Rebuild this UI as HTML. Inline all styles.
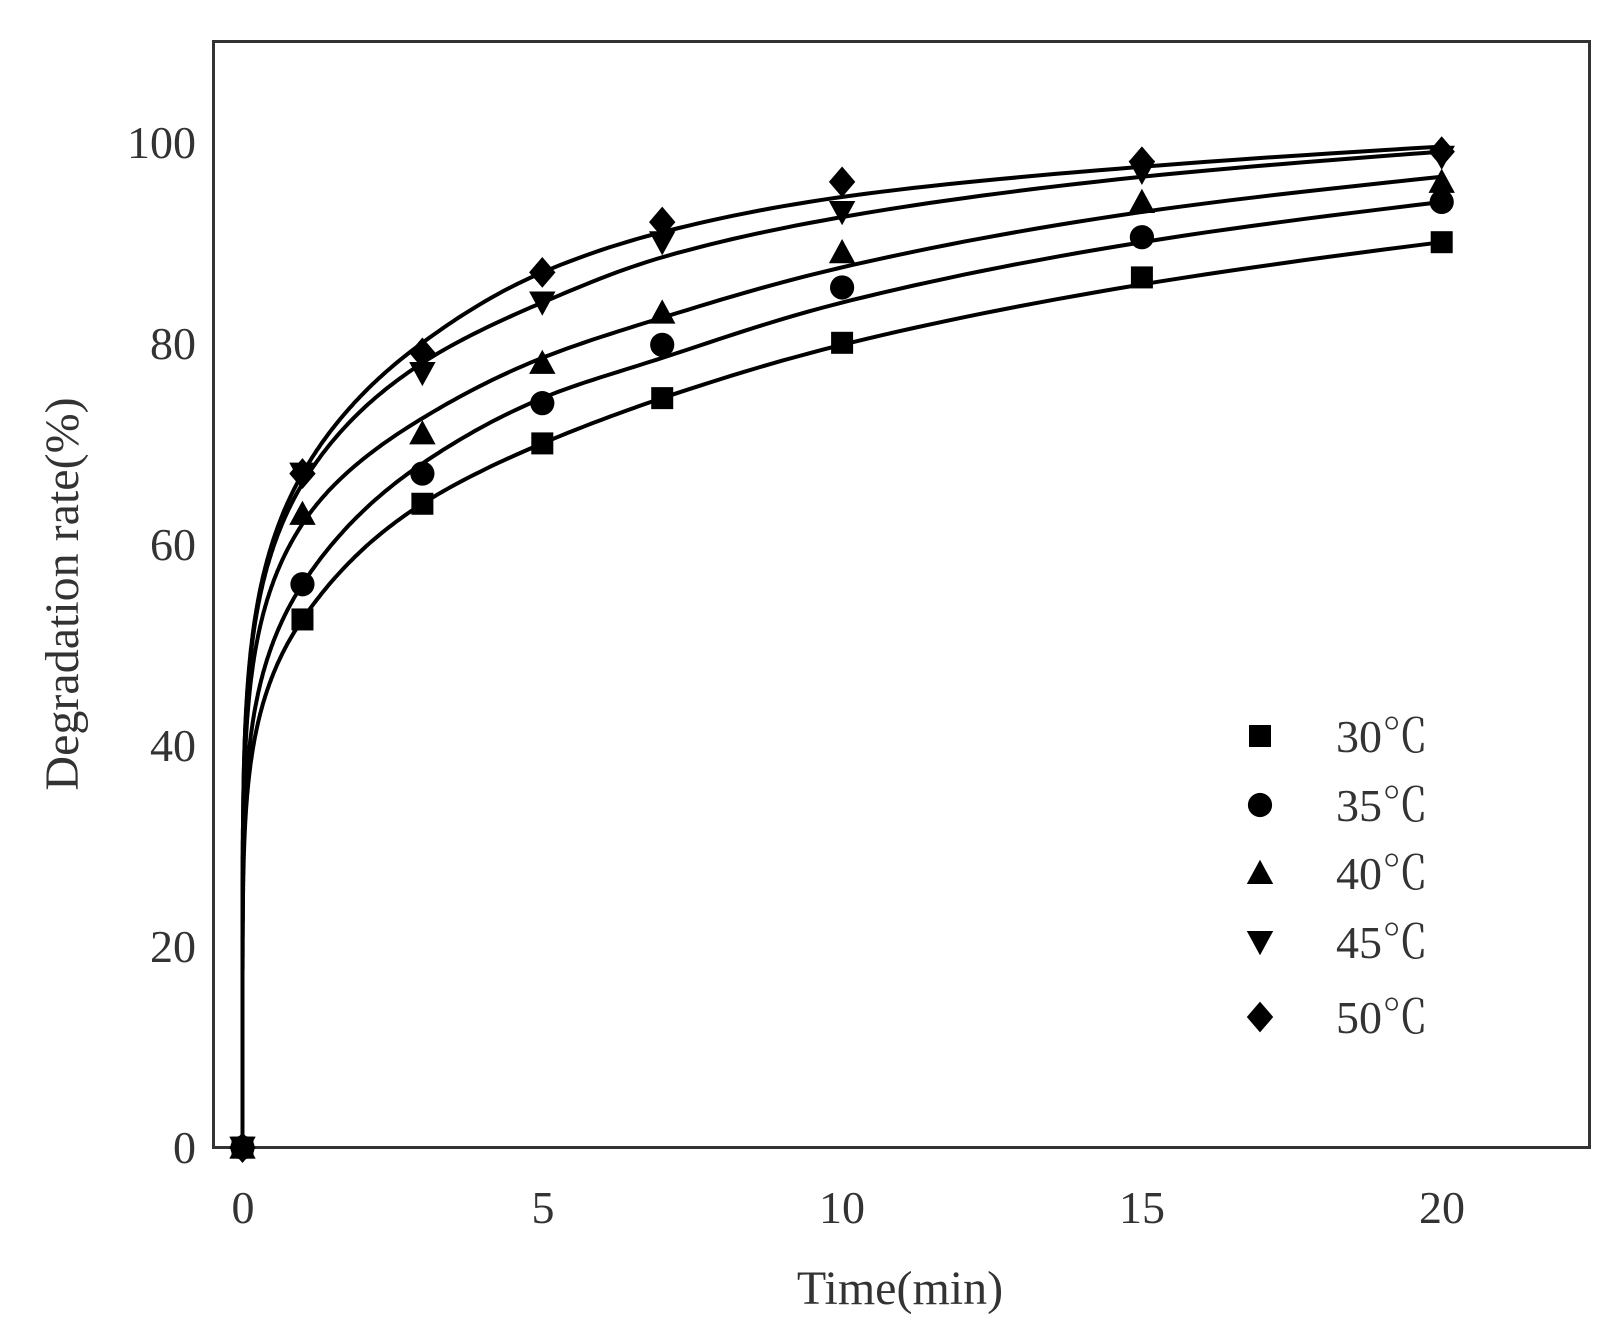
<!DOCTYPE html>
<html><head><meta charset="utf-8"><style>body{margin:0;background:#fff}svg{display:block}text{font-family:"Liberation Serif","Noto Serif CJK SC",serif;fill:#333}</style></head>
<body>
<svg id="s" width="1615" height="1328" xmlns="http://www.w3.org/2000/svg">
<rect x="213.5" y="41.5" width="1376" height="1106" fill="none" stroke="#333" stroke-width="3"/>
<g font-size="46" text-anchor="end">
<text x="196" y="1163">0</text><text x="196" y="962">20</text><text x="196" y="761">40</text><text x="196" y="560">60</text><text x="196" y="359">80</text><text x="196" y="158">100</text>
</g>
<g font-size="46" text-anchor="middle">
<text x="243" y="1223">0</text><text x="543" y="1223">5</text><text x="842" y="1223">10</text><text x="1142" y="1223">15</text><text x="1442" y="1223">20</text>
</g>
<text x="900" y="1304" font-size="48" text-anchor="middle">Time(min)</text>
<text transform="translate(78,594) rotate(-90)" font-size="48" text-anchor="middle">Degradation rate(%)</text>
<g id="c" fill="none" stroke="#000" stroke-width="4"></g>
<g id="m" fill="#000"></g>
<g font-size="46">
<text x="1336" y="752">30℃</text><text x="1336" y="821">35℃</text><text x="1336" y="889">40℃</text><text x="1336" y="958">45℃</text><text x="1336" y="1033">50℃</text>
</g>
</svg>
<script>
var X=t=>242.5+t*59.96, Y=v=>1147.6-v*10.06;
var T=[1,3,5,7,10,15,20];
var D=[[52.5,64,70,74.5,80,86.5,90],[56,67,74,79.8,85.5,90.5,94],[63,71,78,83,89,94,96],[67,77,84,90,93,97,98.5],[67,79,87,92,96,98,99]];
var S=[[52.5,64,70,74.5,79.8,85.8,90],[56,68,74.5,78.5,84,90,94],[62,72.5,78.5,82.5,87.5,93,96.5],[66,78,84,88.5,92.5,96.5,99],[67,80,87,91,94.5,97.5,99.5]];
var c=document.getElementById('c'),m=document.getElementById('m'),ns='http://www.w3.org/2000/svg';
var E=0.15,U=t=>Math.pow(t,E);
function mono(xs,ys){var n=xs.length,d=[],mm=[];
 for(var i=0;i<n-1;i++)d.push((ys[i+1]-ys[i])/(xs[i+1]-xs[i]));
 mm[0]=d[0];mm[n-1]=d[n-2];
 for(i=1;i<n-1;i++){mm[i]=(d[i-1]*d[i]<=0)?0:2/(1/d[i-1]+1/d[i]);}
 return function(x){var i=0;while(i<n-2&&x>xs[i+1])i++;var h=xs[i+1]-xs[i],s=(x-xs[i])/h;
  var h00=2*s*s*s-3*s*s+1,h10=s*s*s-2*s*s+s,h01=-2*s*s*s+3*s*s,h11=s*s*s-s*s;
  return h00*ys[i]+h10*h*mm[i]+h01*ys[i+1]+h11*h*mm[i+1];};}
function mk(k,x,y,r){var e;
 if(k==0){e=document.createElementNS(ns,'rect');e.setAttribute('x',x-r);e.setAttribute('y',y-r);e.setAttribute('width',2*r);e.setAttribute('height',2*r);}
 else if(k==1){e=document.createElementNS(ns,'circle');e.setAttribute('cx',x);e.setAttribute('cy',y);e.setAttribute('r',r*1.1);}
 else{e=document.createElementNS(ns,'polygon');var p;
  if(k==2)p=[[x,y-r*1.2],[x+r*1.2,y+r],[x-r*1.2,y+r]];
  else if(k==3)p=[[x,y+r*1.2],[x+r*1.2,y-r],[x-r*1.2,y-r]];
  else p=[[x,y-r*1.4],[x+r*1.2,y],[x,y+r*1.4],[x-r*1.2,y]];
  e.setAttribute('points',p.map(a=>a.join(',')).join(' '));}
 m.appendChild(e);}
S.forEach((s,i)=>{
 var xs=[0].concat(T.map(U)),ys=[0].concat(s);var f=mono(xs,ys);
 var d='M'+X(0)+','+Y(0);
 for(var j=0;j<=600;j++){var t=1e-5*Math.pow(20/1e-5,j/600);d+=' L'+X(t).toFixed(1)+','+Y(f(U(t))).toFixed(1);}
 var p=document.createElementNS(ns,'path');p.setAttribute('d',d);c.appendChild(p);
 mk(i,X(0),Y(0),11);
 T.forEach((t,j)=>mk(i,X(t),Y(D[i][j]),11));
 mk(i,1260,[736,805,873,942,1017][i],11);
});
</script>
</body></html>
